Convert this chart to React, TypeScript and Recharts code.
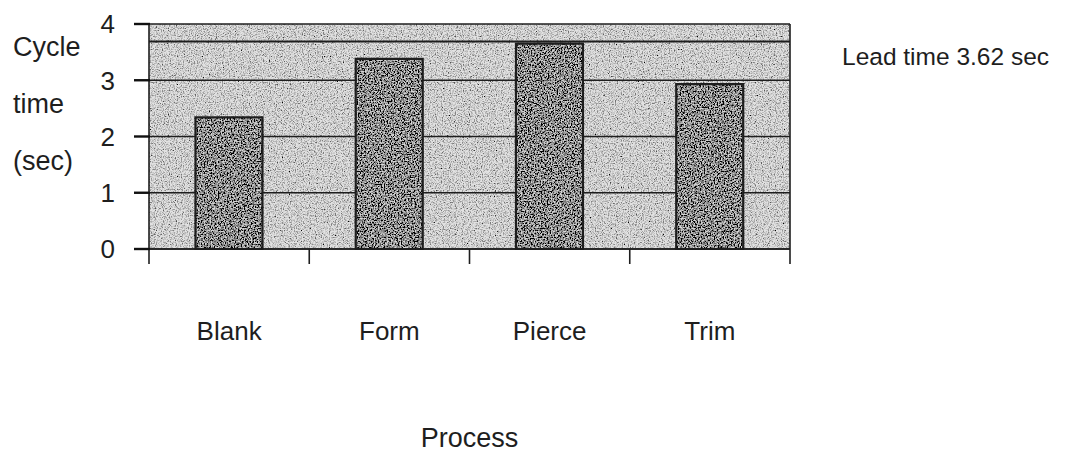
import React from 'react';
import { BarChart, Bar, XAxis, YAxis, CartesianGrid, ReferenceLine, Label } from 'recharts';

const processes = ['Blank', 'Form', 'Pierce', 'Trim'];
const cycleTimes = [2.34, 3.38, 3.65, 2.93];
const yTicks = [0, 1, 2, 3, 4];
const leadTime = 3.69;
const leadTimeText = 'Lead time 3.62 sec';
const yLabelLines = ['Cycle', 'time', '(sec)'];
const xLabel = 'Process';

const data = processes.map((name, i) => ({ name, value: cycleTimes[i] }));

const FONT = '"Liberation Sans", Arial, Helvetica, sans-serif';
const INK = '#1e1e1e';
const TICK_LEN = 15;

const YLabel = (props: any) => {
  const vb = props.viewBox || { x: 0, y: 0 };
  return (
    <text x={vb.x + 13} y={vb.y} fontFamily={FONT} fontSize={27} fill={INK}>
      {yLabelLines.map((l, i) => (
        <tspan key={l} x={vb.x + 13} y={vb.y + 32 + i * 57}>{l}</tspan>
      ))}
    </text>
  );
};

// Y tick: short mark left of the axis plus the value label
const YTick = (props: any) => {
  const x = Number(props.x);
  const y = Number(props.y);
  const { payload } = props;
  return (
    <g>
      <rect x={x - TICK_LEN} y={y - 1.2} width={TICK_LEN + 1} height={2.4} fill="#111" />
      <text x={x - 34} y={y} dy="0.36em" textAnchor="end" fontFamily={FONT} fontSize={26} fill={INK}>
        {payload.value}
      </text>
    </g>
  );
};

// X tick: Excel-style marks on category boundaries, label at the category centre
const XTick = (props: any) => {
  const { x, y, payload, index, visibleTicksCount } = props;
  const half = payload.offset || 0;
  const last = index === visibleTicksCount - 1;
  return (
    <g>
      <line x1={x - half} x2={x - half} y1={y} y2={y + 15} stroke={INK} strokeWidth={1.6} />
      {last && <line x1={x + half} x2={x + half} y1={y} y2={y + 15} stroke={INK} strokeWidth={1.6} />}
      <text x={x} y={y + 91} textAnchor="middle" fontFamily={FONT} fontSize={26} fill={INK}>
        {payload.value}
      </text>
    </g>
  );
};

export default function App() {
  return (
    <div style={{ position: 'absolute', left: 0, top: 0, width: 1072, height: 455, background: '#fff' }}>
      <BarChart
        width={1072}
        height={455}
        data={data}
        margin={{ top: 24, right: 282, bottom: 0, left: 0 }}
        barCategoryGap="29%"
      >
        <defs>
          <filter id="speckleBg" x="0" y="0" width="1" height="1" filterUnits="objectBoundingBox">
            <feTurbulence type="fractalNoise" baseFrequency="0.85" numOctaves="2" seed="4" result="n" />
            <feColorMatrix in="n" type="matrix" values="0 0 0 0 0  0 0 0 0 0  0 0 0 0 0  2.4 0 0 0 -1.02" result="dots" />
            <feFlood floodColor="#e2e2e2" result="bg" />
            <feComposite in="dots" in2="bg" operator="over" />
          </filter>
          <filter id="speckleBar" x="0" y="0" width="1" height="1" filterUnits="objectBoundingBox">
            <feTurbulence type="fractalNoise" baseFrequency="0.7" numOctaves="2" seed="9" result="n" />
            <feColorMatrix in="n" type="matrix" values="0 0 0 0 0  0 0 0 0 0  0 0 0 0 0  3.2 0 0 0 -1.0" result="dots" />
            <feFlood floodColor="#d8d8d8" result="bg" />
            <feComposite in="dots" in2="bg" operator="over" />
          </filter>
          <pattern id="bgPattern" patternUnits="userSpaceOnUse" x="0" y="0" width="1072" height="455">
            <rect x="0" y="0" width="1072" height="455" filter="url(#speckleBg)" />
          </pattern>
          <pattern id="barPattern" patternUnits="userSpaceOnUse" x="0" y="0" width="1072" height="455">
            <rect x="0" y="0" width="1072" height="455" filter="url(#speckleBar)" />
          </pattern>
        </defs>
        <CartesianGrid
          horizontalValues={yTicks}
          verticalCoordinatesGenerator={({ offset }: any) => [offset.left + offset.width]}
          stroke={INK}
          strokeWidth={1.6}
          fill="url(#bgPattern)"
          fillOpacity={1}
        />
        <XAxis
          dataKey="name"
          type="category"
          height={206}
          tickLine={false}
          tickSize={0}
          tickMargin={0}
          stroke={INK}
          axisLine={{ stroke: INK, strokeWidth: 1.6 }}
          tick={XTick}
          interval={0}
        >
          <Label value={xLabel} position="insideBottom" offset={8} fontSize={27} fill={INK} fontFamily={FONT} />
        </XAxis>
        <YAxis
          domain={[0, 4]}
          ticks={yTicks}
          width={149}
          tickLine={false}
          tickSize={0}
          tickMargin={0}
          interval={0}
          stroke={INK}
          axisLine={{ stroke: INK, strokeWidth: 1.6 }}
          tick={YTick}
        >
          <Label content={YLabel} position="insideLeft" />
        </YAxis>
        <ReferenceLine y={leadTime} stroke={INK} strokeWidth={2}>
          <Label value={leadTimeText} position="right" offset={52} dy={15} fontSize={24.5} fill={INK} fontFamily={FONT} />
        </ReferenceLine>
        <Bar
          dataKey="value"
          fill="url(#barPattern)"
          stroke={INK}
          strokeWidth={2.2}
          isAnimationActive={false}
        />
      </BarChart>
    </div>
  );
}
